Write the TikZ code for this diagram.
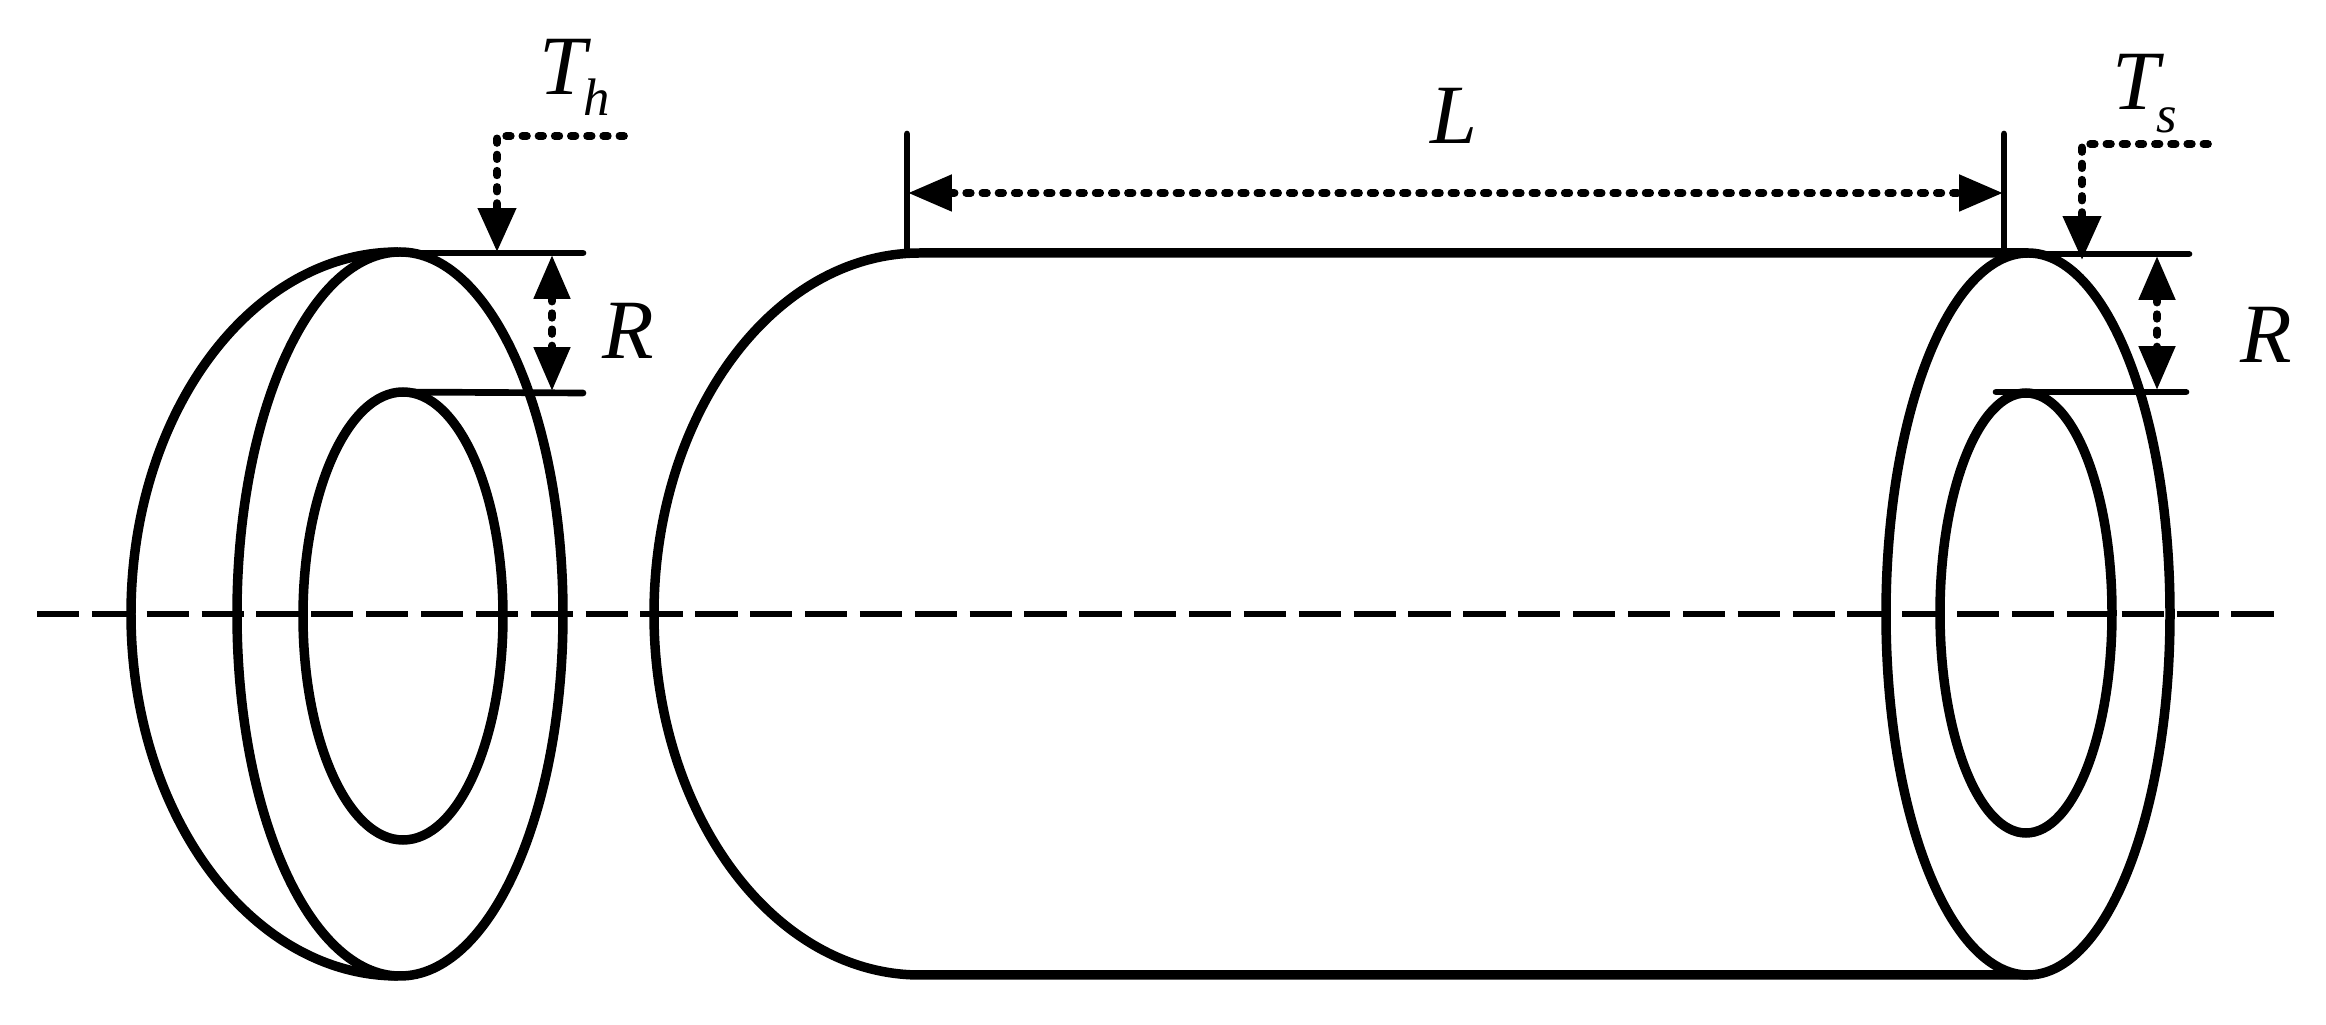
\documentclass[tikz,border=0pt]{standalone}
\usepackage{fontspec}
\setmainfont{Liberation Serif}
\usetikzlibrary{arrows.meta}
\newcommand{\symb}[3]{\textit{#1}\kern-1pt\raisebox{#3}{\fontsize{15}{17}\selectfont\textit{#2}}}
\begin{document}
\begin{tikzpicture}[
	x=0.01cm, y=-0.01cm,
	wall/.style={draw=black, line width=2.7pt},
	ext/.style={draw=black, line width=1.9pt, line cap=round},
	dim/.style={draw=black, line width=2.2pt, line cap=round, dash pattern=on 1.3pt off 3.3pt,
		{Triangle[length=12.5pt, width=10pt]}-{Triangle[length=12.5pt, width=10pt]}},
	lead/.style={draw=black, line width=2.2pt, line cap=round, dash pattern=on 1.3pt off 3.3pt,
		-{Triangle[length=12.5pt, width=10.5pt]}},
	axis/.style={draw=black, line width=1.8pt, dash pattern=on 12pt off 3.6pt},
	sym/.style={font=\fontsize{24}{26}\selectfont\itshape, anchor=base west, inner sep=0pt},
	]
	\useasboundingbox (0,0) rectangle (2326,1025);

	% head ring
	\draw [wall] (398,252) arc [start angle=-90, end angle=-270, x radius=267, y radius=362];
	\draw [wall] (400,614) ellipse [x radius=163, y radius=362];
	\draw [wall] (403,616) ellipse [x radius=100, y radius=224];

	% shell
	\draw [wall] (2028,253) -- (920,253) arc [start angle=-90, end angle=-270, x radius=266, y radius=361] -- (2028,975);
	\draw [wall] (2028,614) ellipse [x radius=142, y radius=361];
	\draw [wall] (2026,613) ellipse [x radius=86, y radius=220];

	% axis
	\coordinate (axl) at (37,614);
	\coordinate (axr) at (2274,614);
	\path [axis] (axl) -- (axr);

	% head dimensions
	\coordinate (hout) at (398,253);
	\coordinate (houte) at (583,253);
	\coordinate (hin) at (398,392);
	\coordinate (hine) at (583,393);
	\path [ext] (hout) -- (houte);
	\path [ext] (hin) -- (hine);
	\path [dim] (552,255) -- (552,391);
	\coordinate (hlead) at (624,136);
	\path [lead] (hlead) -- (497,136) -- (497,252);
	\node [sym] (th) at (539,95) {\symb{T}{h}{-5.7pt}};
	\node [sym] (rh) at (602,359) {R};

	% shell dimensions
	\coordinate (la) at (907,134);
	\coordinate (lb) at (907,253);
	\coordinate (ra) at (2004,134);
	\coordinate (rb) at (2004,253);
	\path [ext] (la) -- (lb);
	\path [ext] (ra) -- (rb);
	\path [dim] (908,193) -- (2003,193);
	\node [sym] (len) at (1430,144) {L};

	\coordinate (sout) at (2025,254);
	\coordinate (soute) at (2189,254);
	\coordinate (sin) at (1996,392);
	\coordinate (sine) at (2186,392);
	\path [ext] (sout) -- (soute);
	\path [ext] (sin) -- (sine);
	\path [dim] (2157,256) -- (2157,390);
	\coordinate (slead) at (2208,144);
	\path [lead] (slead) -- (2082,144) -- (2082,260);
	\node [sym] (ts) at (2112,110) {\symb{T}{s}{-6.5pt}};
	\node [sym] (rs) at (2240,363) {R};
\end{tikzpicture}
\end{document}
